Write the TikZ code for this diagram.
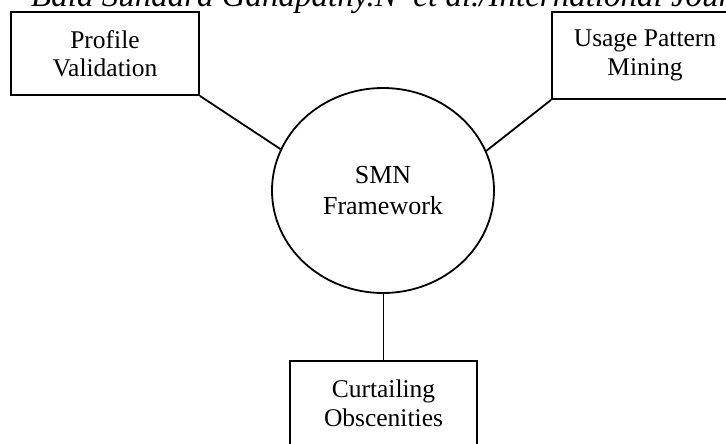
\documentclass[tikz,border=0pt]{standalone}
\usepackage{fontspec}
\setmainfont{Liberation Serif}
\usetikzlibrary{shapes.geometric}
\begin{document}
\begin{tikzpicture}[x=1pt,y=-1pt,
  box/.style={draw, line width=1.9pt, align=center, inner sep=0pt,
    font=\fontsize{25.5}{28.5}\selectfont},
  hub/.style={draw, ellipse, line width=1.8pt, align=center, inner sep=0pt,
    font=\fontsize{26}{31}\selectfont},
  link/.style={line width=1.8pt}]
\useasboundingbox (0,0) rectangle (726,444);
\clip (0,0) rectangle (726,444);
\node[anchor=base west, inner sep=0pt, font=\fontsize{33}{36}\selectfont\itshape] (hdr) at (31,7)
  {Bala Sundara Ganapathy.N\hspace{0.5em}et al./International Jour};
\node[box, minimum width=188pt, minimum height=83pt] (pv) at (105,53.5) {Profile\\Validation};
\node[box, minimum width=186pt, minimum height=87pt] (upm) at (645,55.5) {Usage Pattern\\Mining};
\node[hub, minimum width=222pt, minimum height=205pt] (smn) at (383,190.5) {SMN\\Framework};
\node[box, minimum width=187pt, minimum height=85pt] (co) at (383.5,403.5) {Curtailing\\Obscenities};
\draw[link] (pv.south east) -- (smn.158);
\draw[link] (upm.south west) -- (smn.21);
\draw[link] (smn.south -| co.north) -- (co.north);
\end{tikzpicture}
\end{document}
